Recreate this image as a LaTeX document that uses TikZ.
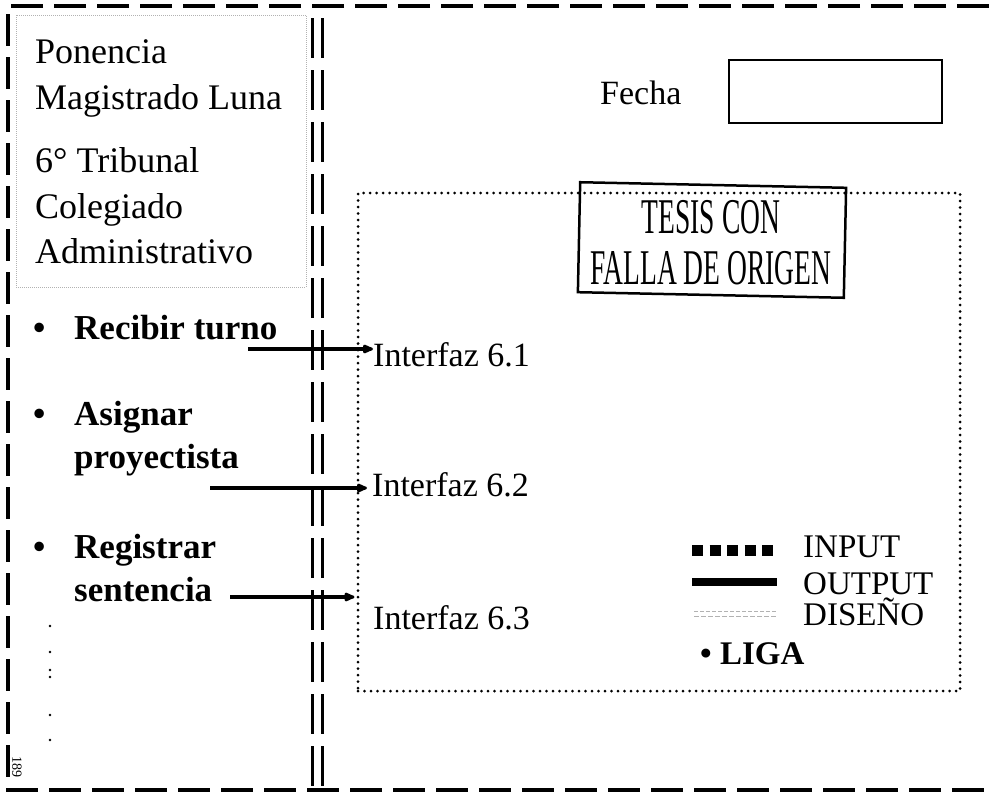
\documentclass[tikz,border=0pt]{standalone}
\usepackage{fontspec}
\setmainfont{Liberation Serif}
\usepackage{tikz}
\usetikzlibrary{arrows.meta,positioning}
\newcommand{\narrow}[1]{\scalebox{0.55}[1]{#1}}

\begin{document}
\begin{tikzpicture}[
  x=1pt,y=-1pt,
  txt/.style={inner sep=0pt,anchor=base west,font=\fontsize{36}{43}\selectfont},
  btxt/.style={inner sep=0pt,anchor=base west,font=\fontsize{35}{42}\selectfont\bfseries},
  ifz/.style={inner sep=0pt,anchor=base west,font=\fontsize{34}{40}\selectfont},
  leg/.style={inner sep=0pt,anchor=base west,font=\fontsize{33}{36}\selectfont},
  stamptxt/.style={inner sep=0pt,anchor=base,font=\fontsize{50}{52}\selectfont},
  frame/.style={line width=3.5pt,dash pattern=on 32pt off 11pt},
  wall/.style={line width=3pt,dash pattern=on 40pt off 12pt},
  dotbox/.style={draw,line width=3pt,dash pattern=on 0pt off 6.5pt,line cap=round,inner sep=0pt},
  arr/.style={line width=3.2pt,-{Latex[length=14pt,width=11pt,round]}}
]
\useasboundingbox (0,0) rectangle (989,795);

% ---- outer frame and the double wall ----
\draw[frame] (989,6) -- (8,6) -- (8,790) -- (989,790);
\draw[wall] (312,18) -- (312,790);
\draw[wall] (322,18) -- (322,790);

% ---- heading box (left) ----
\node[draw=gray!60,line width=1pt,densely dotted,minimum width=290pt,minimum height=272pt] (head) at (161,151) {};
\node[txt] (pon)   at (35,63)  {Ponencia};
\node[txt] (mag)   at (35,109) {Magistrado Luna};
\node[txt] (trib)  at (35,172) {6° Tribunal};
\node[txt] (coleg) at (35,218) {Colegiado};
\node[txt] (admin) at (35,263) {Administrativo};

% ---- activities ----
\node[btxt] (b1) at (33,339) {•};
\node[btxt] (recibir) at (74,339) {Recibir turno};
\node[btxt] (b2) at (33,425) {•};
\node[btxt] (asignar) at (74,425) {Asignar};
\node[btxt] (proy)    at (74,468) {proyectista};
\node[btxt] (b3) at (33,558) {•};
\node[btxt] (registrar) at (74,558) {Registrar};
\node[btxt] (sent)      at (74,601) {sentencia};

% small dots below the list
\foreach \yy in {626,652,670,677,715,740}
  \fill (50,\yy) circle (1.4pt);
\node[inner sep=0pt,anchor=west,rotate=-90,font=\fontsize{14}{14}\selectfont] (pag) at (17,756) {189};

% ---- right side: fecha ----
\node[inner sep=0pt,anchor=base west,font=\fontsize{34}{40}\selectfont] (fecha) at (600,104) {Fecha};
\node[draw,line width=2.5pt,minimum width=213pt,minimum height=63pt] (fechabox) at (835.5,91.5) {};

% ---- interfaces panel ----
\node[dotbox,minimum width=602pt,minimum height=498pt] (panel) at (659,442) {};
\node[draw,line width=2.5pt,minimum width=266pt,minimum height=110pt,rotate=-1.2] (stamp) at (712,240) {};
\node[stamptxt] (tesis) at (711,233) {\narrow{TESIS CON}};
\node[stamptxt] (falla) at (711,284) {\narrow{FALLA DE ORIGEN}};

\node[ifz] (if61) at (373,366) {Interfaz 6.1};
\node[ifz] (if62) at (372,496) {Interfaz 6.2};
\node[ifz] (if63) at (373,629) {Interfaz 6.3};

\coordinate (a1) at (248,349);
\coordinate (a2) at (210,488);
\coordinate (a3) at (230,597);
\draw[arr] (a1) -- (a1 -| if61.west);
\draw[arr] (a2) -- ([xshift=-5pt]a2 -| if62.west);
\draw[arr] (a3) -- ([xshift=-2pt]a3 -| panel.west);

% ---- legend ----
\draw[line width=11pt,dash pattern=on 11pt off 6.5pt] (692,550) -- (775,550);
\node[leg] (input) at (803,557) {INPUT};
\draw[line width=8pt] (692,582) -- (777,582);
\node[leg] (output) at (803,594) {OUTPUT};
\draw[gray!60,line width=1pt,dash pattern=on 4pt off 2pt] (694,611) -- (777,611);
\draw[gray!60,line width=1pt,dash pattern=on 5pt off 2pt] (694,616) -- (777,616);
\node[leg] (diseno) at (803,625) {DISEÑO};
\node[btxt,font=\fontsize{33}{36}\selectfont\bfseries] (liga) at (700,664) {• LIGA};
\end{tikzpicture}
\end{document}
